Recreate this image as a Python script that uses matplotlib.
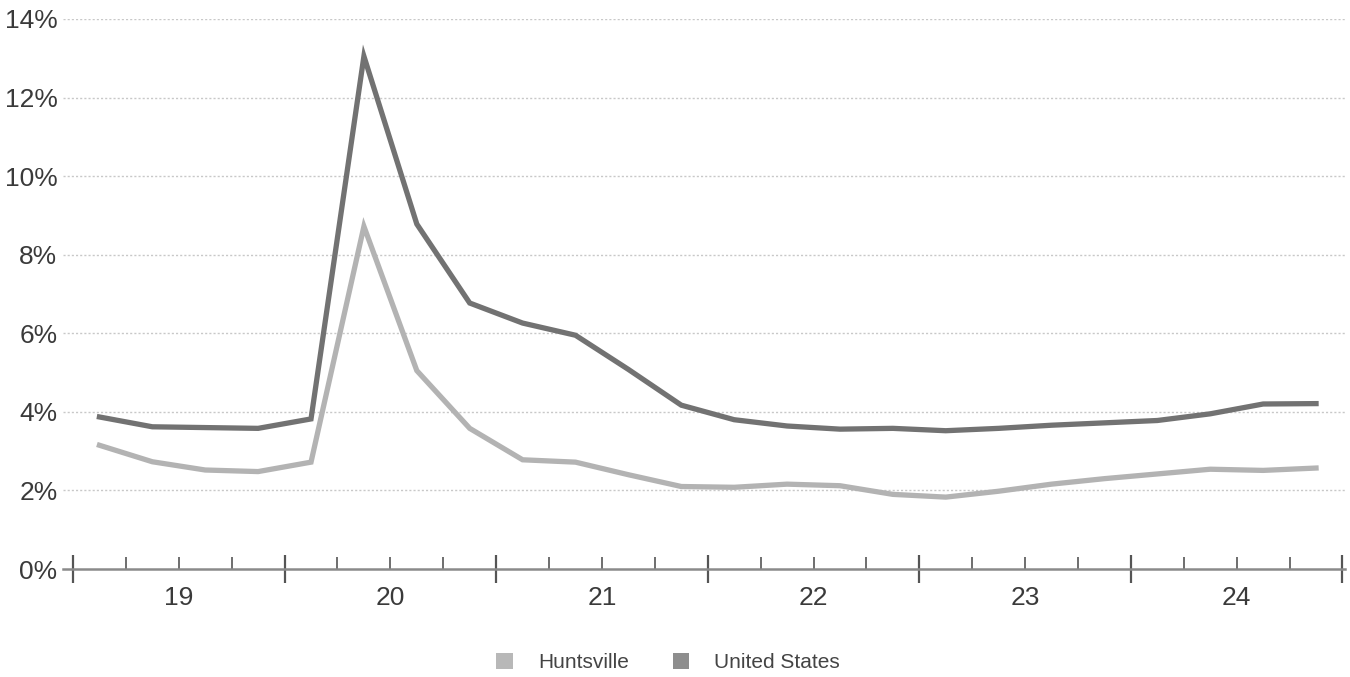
import matplotlib
matplotlib.use("Agg")
import matplotlib.pyplot as plt
from matplotlib.patches import Patch
from matplotlib.ticker import FixedLocator, FixedFormatter, NullFormatter

plt.rcParams['font.family'] = ['Liberation Sans', 'DejaVu Sans']

# Quarterly unemployment rate (%), seasonally adjusted averages
quarters = [
    "2019Q1", "2019Q2", "2019Q3", "2019Q4",
    "2020Q1", "2020Q2", "2020Q3", "2020Q4",
    "2021Q1", "2021Q2", "2021Q3", "2021Q4",
    "2022Q1", "2022Q2", "2022Q3", "2022Q4",
    "2023Q1", "2023Q2", "2023Q3", "2023Q4",
    "2024Q1", "2024Q2", "2024Q3", "2024Q4",
]
huntsville = [3.15, 2.73, 2.52, 2.48, 2.72, 8.72, 5.05, 3.58, 2.78, 2.72, 2.40, 2.10,
              2.08, 2.16, 2.12, 1.90, 1.83, 1.98, 2.16, 2.30, 2.42, 2.54, 2.51, 2.57]
united_states = [3.87, 3.62, 3.60, 3.58, 3.82, 13.05, 8.78, 6.77, 6.26, 5.95, 5.08, 4.17,
                 3.80, 3.64, 3.56, 3.58, 3.52, 3.58, 3.66, 3.72, 3.78, 3.95, 4.20, 4.21]
year_labels = ["19", "20", "21", "22", "23", "24"]
y_ticks = [0, 2, 4, 6, 8, 10, 12, 14]

# place each quarter at its midpoint on a decimal-year axis
def quarter_pos(q):
    year, qn = int(q[:4]), int(q[-1])
    return year + (qn - 0.5) / 4

x = [quarter_pos(q) for q in quarters]
first_year = int(quarters[0][:4])
years = [first_year + i for i in range(len(year_labels) + 1)]

c_hsv = "#b3b3b3"
c_us = "#727272"

fig = plt.figure(figsize=(13.5, 6.77), dpi=100)
ax = fig.add_axes([0.0467, 0.1595, 0.9493, 0.8125])

ax.plot(x, huntsville, color=c_hsv, lw=3.8, solid_joinstyle='miter', zorder=3)
ax.plot(x, united_states, color=c_us, lw=3.8, solid_joinstyle='miter', zorder=4)

ax.set_xlim(years[0] - 0.047, years[-1] + 0.01)
ax.set_ylim(0, 14)

# y axis: percent labels with dotted gridlines
ax.set_yticks(y_ticks)
ax.set_yticklabels([f"{v}%" for v in y_ticks])
ax.tick_params(axis='y', length=0, pad=4, labelsize=19, labelcolor="#3a3a3a")
for v in y_ticks[1:]:
    ax.axhline(v, color="#c8c8c8", lw=1.0, ls=(0, (1.5, 1.5)), zorder=1)

# x axis: year boundaries as major ticks, quarters as minor ticks
ax.xaxis.set_major_locator(FixedLocator(years))
ax.xaxis.set_major_formatter(NullFormatter())
minor_pos, minor_lab = [], []
for i, y0 in enumerate(years[:-1]):
    for k in (1, 2, 3):
        minor_pos.append(y0 + k / 4)
        minor_lab.append(year_labels[i] if k == 2 else "")
ax.xaxis.set_minor_locator(FixedLocator(minor_pos))
ax.xaxis.set_minor_formatter(FixedFormatter(minor_lab))
ax.tick_params(axis='x', which='major', direction='inout', length=20, width=1.6, color="#555555")
ax.tick_params(axis='x', which='minor', direction='in', length=9, width=1.2, color="#555555",
               pad=12, labelsize=19, labelcolor="#3a3a3a")

for side in ("top", "right", "left"):
    ax.spines[side].set_visible(False)
ax.spines["bottom"].set_color("#8a8a8a")
ax.spines["bottom"].set_linewidth(1.8)

handles = [Patch(facecolor="#b8b8b8", edgecolor="none", label="Huntsville"),
           Patch(facecolor="#8e8e8e", edgecolor="none", label="United States")]
fig.legend(handles=handles, loc="center", bbox_to_anchor=(0.495, 0.021), ncol=2,
           frameon=False, fontsize=15, handlelength=0.8, handleheight=0.8,
           handletextpad=1.2, columnspacing=2.1, labelcolor="#444444")

fig.savefig("out.png", dpi=100, facecolor="white")
